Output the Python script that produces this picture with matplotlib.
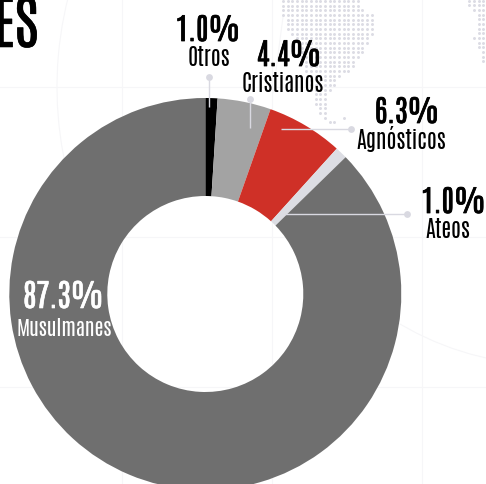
import numpy as np
import matplotlib
matplotlib.use("Agg")
import matplotlib.pyplot as plt
import matplotlib.patheffects as pe
from matplotlib.patches import Arc

FONT = ["Antonio", "Oswald", "DejaVu Sans"]

# Chart data, clockwise from twelve o'clock
labels = ["Otros", "Cristianos", "Agnósticos", "Ateos", "Musulmanes"]
shares = [1.0, 4.4, 6.3, 1.0, 87.3]
colors = ["#000000", "#a3a3a3", "#cf3027", "#dcdde3", "#6f6f6f"]

# Background dotted map, one (first column, last column) run per row
map_main_rows = [(0,16),(0,16),(0,17),(0,19),(1,19),(1,19),(1,19),(2,19),(3,18),(4,18),
                 (4,17),(4,17),(4,16),(4,15),(5,15),(5,14),(6,12),(6,11),(6,11),(6,10),
                 (7,9),(7,9),(7,9),(8,9),(8,9),(9,9),(10,11)]
map_main_extra = [(13,25)]
map_side_rows = [(0,3),(0,3),(1,3),(2,3),(2,3),(2,3),(2,3),(2,3),(1,3),(2,3),(2,3),(3,3),(3,3),(3,3)]

W, H = 486, 484
fig = plt.figure(figsize=(W/100, H/100), dpi=100)
ax = fig.add_axes([0, 0, 1, 1])
def Y(v):
    return H - v

# Faint background grid and arcs
GRID = "#f6f6f8"
for gx in (122, 272, 422):
    ax.plot([gx, gx], [0, H], color=GRID, lw=0.8, zorder=0)
for gy in (87, 237, 387):
    ax.plot([0, W], [Y(gy), Y(gy)], color=GRID, lw=0.8, zorder=0)
ax.add_patch(Arc((422, Y(87)), 730, 730, theta1=150, theta2=200, color=GRID, lw=0.8, zorder=0))
ax.add_patch(Arc((550, Y(70)), 590, 590, theta1=230, theta2=290, color=GRID, lw=0.8, zorder=0))
ax.plot([283, 273], [Y(17), Y(93)], color=GRID, lw=0.8, zorder=0)

# Dotted map
DOT = "#dcdce4"
mx, my = [], []
for j, (a, b) in enumerate(map_main_rows):
    for k in range(a, b + 1):
        mx.append(283 + 4.67 * k); my.append(Y(1 + 4.67 * j))
for k, j in map_main_extra:
    mx.append(283 + 4.67 * k); my.append(Y(1 + 4.67 * j))
for j, (a, b) in enumerate(map_side_rows):
    for k in range(a, b + 1):
        mx.append(469.3 + 4.67 * k); my.append(Y(0.5 + 4.67 * j))
ax.scatter(mx, my, s=4.6, color=DOT, linewidths=0, zorder=1)

# Donut
cx, cy, R, r_in = 205.3, Y(294), 196, 98
ax.pie(shares, colors=colors, startangle=90, counterclock=False, center=(cx, cy), radius=R,
       wedgeprops=dict(width=R - r_in, linewidth=0, zorder=2), frame=True)
ax.set_xlim(0, W)
ax.set_ylim(0, H)
ax.set_aspect("auto")
ax.axis("off")

# Leaders
LEAD = "#d9d9e1"
leaders = [((209, 77), (209, 107)), ((250, 99), (250, 128)), ((351, 129), (281, 129)), ((407, 214), (285, 214))]
for (x0, y0), (x1, y1) in leaders:
    ax.plot([x0, x1], [Y(y0), Y(y1)], color=LEAD, lw=1.0, zorder=3, solid_capstyle="butt")
    ax.scatter([x0], [Y(y0)], s=24, color=LEAD, linewidths=0, zorder=3)

# Text
def txt(x, y, s, size, stroke, c="#000000", ha="center"):
    t = ax.text(x, Y(y), s, family=FONT, fontsize=size, ha=ha, va="baseline", color=c, zorder=5)
    if stroke:
        t.set_path_effects([pe.withStroke(linewidth=stroke, foreground=c)])

pct = [f"{v:.1f}%" for v in shares]
txt(208, 41, pct[0], 21.5, 0.55);  txt(209, 66, labels[0], 16, 0)
txt(289, 66, pct[1], 21.5, 0.55);  txt(283, 92, labels[1], 16, 0)
txt(407, 123, pct[2], 21.5, 0.55); txt(401, 149, labels[2], 16, 0)
txt(453.5, 213, pct[3], 21.5, 0.55); txt(447.5, 238, labels[3], 16, 0)
txt(63.5, 308, pct[4], 22.5, 0.45, "#ffffff"); txt(64, 336, labels[4], 14.8, 0, "#ffffff")
txt(38.5, 47, "ES", 42, 0.4, ha="right")

fig.savefig("out.png", dpi=100)
